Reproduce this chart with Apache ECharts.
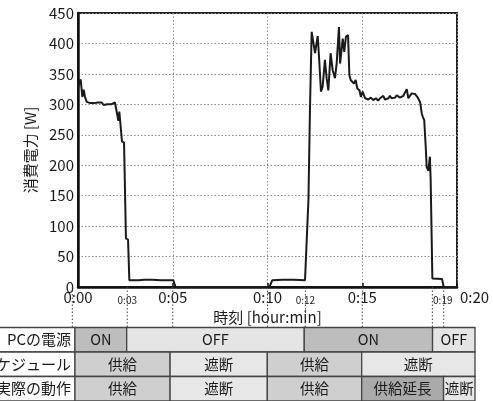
<!DOCTYPE html>
<html><head><meta charset="utf-8">
<script src="https://cdn.jsdelivr.net/npm/echarts@6/dist/echarts.min.js"></script>
<style>html,body{margin:0;padding:0;background:#fff}#c{width:493px;height:401px}</style>
</head><body><div id="c"></div>
<script>
// ---- data (time in minutes, power in W) ----
const timeMin = [0,0.07,0.14,0.23,0.3,0.37,0.46,0.55,0.65,0.75,0.85,0.95,1.05,1.15,1.25,1.35,1.45,1.55,1.65,1.75,1.85,1.95,2.04,2.13,2.18,2.23,2.32,2.43,2.53,2.64,2.71,3.2,3.5,3.9,4.4,5.03,5.15,10.1,10.25,10.8,11.4,11.98,12.16,12.24,12.33,12.51,12.56,12.65,12.74,12.82,12.91,13.03,13.12,13.21,13.33,13.44,13.56,13.65,13.77,13.83,13.97,14.05,14.14,14.25,14.32,14.39,14.47,14.56,14.65,14.74,14.85,14.93,15.02,15.15,15.32,15.45,15.58,15.72,15.84,15.94,16.03,16.11,16.2,16.29,16.38,16.46,16.55,16.64,16.73,16.82,16.9,16.99,17.08,17.17,17.26,17.35,17.43,17.52,17.61,17.7,17.78,17.91,18.05,18.14,18.19,18.27,18.35,18.4,18.49,18.57,18.61,18.7,19.21,19.3,20];
const powerW  = [326,336,341,312,324,312,304,302,302,300,302,299,303,300,303,299,302,300,303,300,302,303,304,273,288,271,239,237,80,78,11,11,12,12,11,11,0,0,11,12,12,11,143,290,419,384,395,412,367,321,329,373,343,323,384,356,343,367,427,367,408,386,411,414,348,340,343,334,340,326,323,312,321,310,308,311,307,310,306,310,307,314,308,311,310,314,310,313,311,315,313,311,310,314,313,325,310,307,318,319,317,312,304,285,280,274,230,197,191,214,176,14,13,0,0];

const majorTicks = [0,5,10,15];
const majorLabels = ['0:00','0:05','0:10','0:15'];
const minorTicks = [2.6,12,19.25];
const minorLabels = ['0:03','0:12','0:19'];
const endTick = [20];
const endLabel = ['0:20'];
const guideTimes = [-0.3,2.6,5,10,12,15,18.7,19.3];

const rowLabels = ['PCの電源','スケジュール','実際の動作'];
const powerBounds = [2.57,11.94,18.71];
const powerLabels = ['ON','OFF','ON','OFF'];
const scheduleBounds = [4.86,9.99,14.97];
const scheduleLabels = ['供給','遮断','供給','遮断'];
const actualBounds = [4.86,9.99,14.97,19.29];
const actualLabels = ['供給','遮断','供給','供給延長','遮断'];

// ---- layout ----
const W = 493, H = 401;
const gL = 78, gR = 457, gT = 13, gB = 287;
const pxPerMin = (gR - gL) / 20;
const tableRight = 475;
const tMin = -gL / pxPerMin, tMax = (tableRight - gL) / pxPerMin;
const tableStart = -0.16;
const FONT = '"Noto Sans CJK JP","Noto Sans",sans-serif';
const fillMap = {'ON':'#bdbdbd','OFF':'#e5e5e5','供給':'#cfcfcf','遮断':'#e7e7e7','供給延長':'#aaaaaa'};

const lineData = timeMin.map((t,i)=>[t, powerW[i]]);

const cells = [];
[[powerBounds,powerLabels],[scheduleBounds,scheduleLabels],[actualBounds,actualLabels]].forEach((rc, r)=>{
  cells.push({value:[tMin-1, tableStart, r], label: rowLabels[r], head:true});
  const b = [tableStart].concat(rc[0], [tMax]);
  rc[1].forEach((lab,i)=>cells.push({value:[b[i], b[i+1], r], label: lab}));
});

function lookup(ticks, labels){ return v => { const i = ticks.findIndex(t=>Math.abs(t-v)<1e-6); return i>=0 ? labels[i] : ''; }; }

const chart = echarts.init(document.getElementById('c'), null, {renderer:'canvas'});
chart.setOption({
  animation:false,
  backgroundColor:'#fff',
  grid:[
    {left:gL, top:gT, width:gR-gL, height:gB-gT, show:true, borderColor:'#222', borderWidth:2, containLabel:false},
    {left:0, top:327.5, width:tableRight, height:73.5, containLabel:false},
    {left:0, top:gB, width:tableRight, height:327.5-gB, containLabel:false}
  ],
  xAxis:[
    {gridIndex:0, type:'value', min:0, max:20, interval:5, position:'bottom',
     name:'時刻 [hour:min]', nameLocation:'middle', nameGap:19,
     nameTextStyle:{fontFamily:FONT, fontSize:15, color:'#1a1a1a'},
     axisLine:{show:true, onZero:false, lineStyle:{color:'#111', width:2.5}},
     axisTick:{show:true, inside:true, length:4, lineStyle:{color:'#111', width:1.5}},
     axisLabel:{customValues:majorTicks, formatter:lookup(majorTicks, majorLabels), fontFamily:FONT, fontSize:15, color:'#1a1a1a', margin:3},
     splitLine:{show:true, lineStyle:{color:'#8a8a8a', width:1, type:[1.5,2]}}},
    {gridIndex:0, type:'value', min:0, max:20, position:'bottom',
     axisLine:{show:false}, axisTick:{show:false}, splitLine:{show:false},
     axisLabel:{customValues:minorTicks, formatter:lookup(minorTicks, minorLabels), fontFamily:FONT, fontSize:10, color:'#1a1a1a', margin:8}},
    {gridIndex:0, type:'value', min:0, max:20, position:'bottom',
     axisLine:{show:false}, axisTick:{show:false}, splitLine:{show:false},
     axisLabel:{customValues:endTick, formatter:lookup(endTick, endLabel), fontFamily:FONT, fontSize:15, color:'#1a1a1a', margin:3, align:'left', padding:[0,0,0,3]}},
    {gridIndex:1, type:'value', min:tMin, max:tMax, show:false},
    {gridIndex:2, type:'value', min:tMin, max:tMax, show:false}
  ],
  yAxis:[
    {gridIndex:0, type:'value', min:0, max:450, interval:50,
     name:'消費電力 [W]', nameLocation:'middle', nameGap:40, nameRotate:90,
     nameTextStyle:{fontFamily:FONT, fontSize:15, color:'#1a1a1a'},
     axisLine:{show:true, lineStyle:{color:'#111', width:2.5}},
     axisTick:{show:false},
     axisLabel:{fontFamily:FONT, fontSize:15, color:'#1a1a1a', margin:4},
     splitLine:{show:true, lineStyle:{color:'#8a8a8a', width:1, type:[1.5,2]}}},
    {gridIndex:1, type:'category', data:rowLabels, inverse:true, show:false},
    {gridIndex:2, type:'value', min:0, max:1, show:false}
  ],
  series:[
    {type:'line', xAxisIndex:0, yAxisIndex:0, data:lineData, showSymbol:false, symbol:'none',
     lineStyle:{color:'#1a1a1a', width:2}, clip:true, z:5},
    {type:'custom', xAxisIndex:4, yAxisIndex:2, data:guideTimes.map(t=>[t]),
     renderItem:(p, api)=>{
       const a = api.coord([api.value(0), 1]), b = api.coord([api.value(0), 0]);
       return {type:'line', shape:{x1:a[0], y1:a[1], x2:b[0], y2:b[1]}, style:{stroke:'#444', lineWidth:1, lineDash:[1.5,2]}};
     }},
    {type:'custom', xAxisIndex:3, yAxisIndex:1, data:cells.map(c=>c.value), encode:{x:[0,1], y:2},
     renderItem:(p, api)=>{
       const c = cells[p.dataIndex];
       const r = api.value(2);
       const p0 = api.coord([api.value(0), r]), p1 = api.coord([api.value(1), r]);
       const h = api.size([0,1])[1];
       const y0 = p0[1] - h/2;
       const rect = {type:'rect', shape:{x:p0[0], y:y0, width:p1[0]-p0[0], height:h},
         style:{fill: c.head ? '#ffffff' : fillMap[c.label], stroke:'#444', lineWidth:1.3}};
       const txt = {type:'text', style:{text:c.label, x: c.head ? p1[0]-4 : (p0[0]+p1[0])/2, y:p0[1],
         align: c.head ? 'right' : 'center', verticalAlign:'middle',
         font: (c.head ? '15px ' : '14.5px ') + FONT, fill:'#1a1a1a'}, z2:10};
       return {type:'group', children:[rect, txt]};
     }}
  ]
});
</script></body></html>
